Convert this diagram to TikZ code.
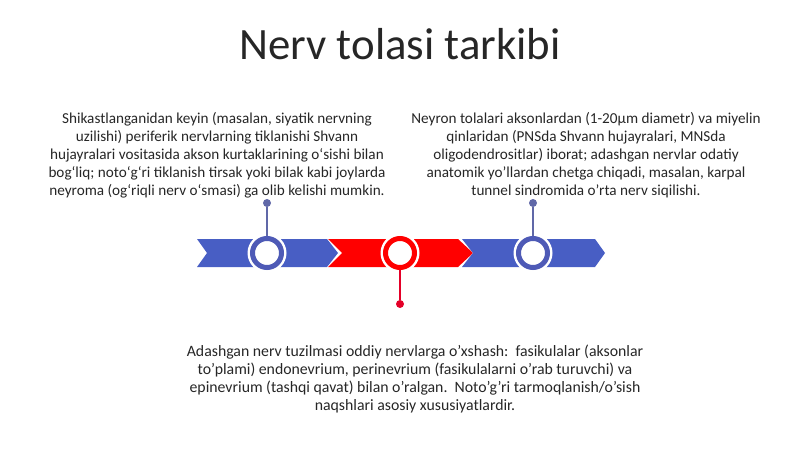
\documentclass[tikz,border=0pt]{standalone}
\usepackage{fontspec}
\setmainfont{Carlito}
\usepackage{tikz}
\usetikzlibrary{positioning, calc}
\definecolor{nervblue}{RGB}{72,94,196}
\definecolor{ringblue}{RGB}{78,90,182}
\definecolor{nervred}{RGB}{255,0,0}
\definecolor{stemblue}{RGB}{96,104,168}
\definecolor{stemred}{RGB}{228,0,40}
\definecolor{textgray}{RGB}{38,38,38}

\tikzset{
  bodytext/.style={align=center, font=\fontsize{15.2}{18}\selectfont, text=textgray, inner sep=0pt},
  ring/.style={circle, minimum size=29pt, inner sep=0pt, line width=5pt, draw=#1, fill=white},
  dot/.style={circle, minimum size=8pt, inner sep=0pt, fill=#1}
}

\begin{document}
\begin{tikzpicture}[x=1pt, y=-1pt]
\useasboundingbox (0,0) rectangle (800,449);

% Titel
\node[font=\fontsize{44.8}{50}\selectfont, text=textgray] (title) at (400,44) {Nerv tolasi tarkibi};

% Strelkalar (chevron)
\foreach \xa/\xn/\xr/\xt/\col in {197/207/327/338/nervblue, 328/342/458/473/nervred, 462/473/595/605/nervblue} {
    \fill[\col] (\xa,239) -- (\xr,239) -- (\xt,253) -- (\xr,267) -- (\xa,267) -- (\xn,253) -- cycle;
}

% Halqalar
\foreach \x/\n/\col in {267/c1/ringblue, 400/c2/nervred, 533/c3/ringblue} {
    \fill[white] (\x,253) circle (19.5);
    \node[ring=\col] (\n) at (\x,253) {};
}

% Nuqtalar va chiziqlar
\node[dot=stemblue] (d1) at (267,203) {};
\node[dot=stemred] (d2) at (400,304) {};
\node[dot=stemblue] (d3) at (533,203) {};
\draw[stemblue, line width=1.6pt] (c1) -- (d1);
\draw[stemred, line width=1.6pt] (c2) -- (d2);
\draw[stemblue, line width=1.6pt] (c3) -- (d3);

% Matnlar
\node[bodytext] (left) at (217,155) {Shikastlanganidan keyin (masalan, siyatik nervning\\uzilishi) periferik nervlarning tiklanishi Shvann\\hujayralari vositasida akson kurtaklarining oʻsishi bilan\\bogʻliq; notoʻgʻri tiklanish tirsak yoki bilak kabi joylarda\\neyroma (ogʻriqli nerv oʻsmasi) ga olib kelishi mumkin.};
\node[bodytext] (right) at (586,155) {Neyron tolalari aksonlardan (1-20µm diametr) va miyelin\\qinlaridan (PNSda Shvann hujayralari, MNSda\\oligodendrositlar) iborat; adashgan nervlar odatiy\\anatomik yo'llardan chetga chiqadi, masalan, karpal\\tunnel sindromida o'rta nerv siqilishi.};
\node[bodytext, font=\fontsize{15.8}{18}\selectfont] (bottom) at (415,379) {Adashgan nerv tuzilmasi oddiy nervlarga o'xshash:\ \ fasikulalar (aksonlar\\to'plami) endonevrium, perinevrium (fasikulalarni o'rab turuvchi) va\\epinevrium (tashqi qavat) bilan o'ralgan.\ \ Noto'g'ri tarmoqlanish/o'sish\\naqshlari asosiy xususiyatlardir.};

\end{tikzpicture}
\end{document}
